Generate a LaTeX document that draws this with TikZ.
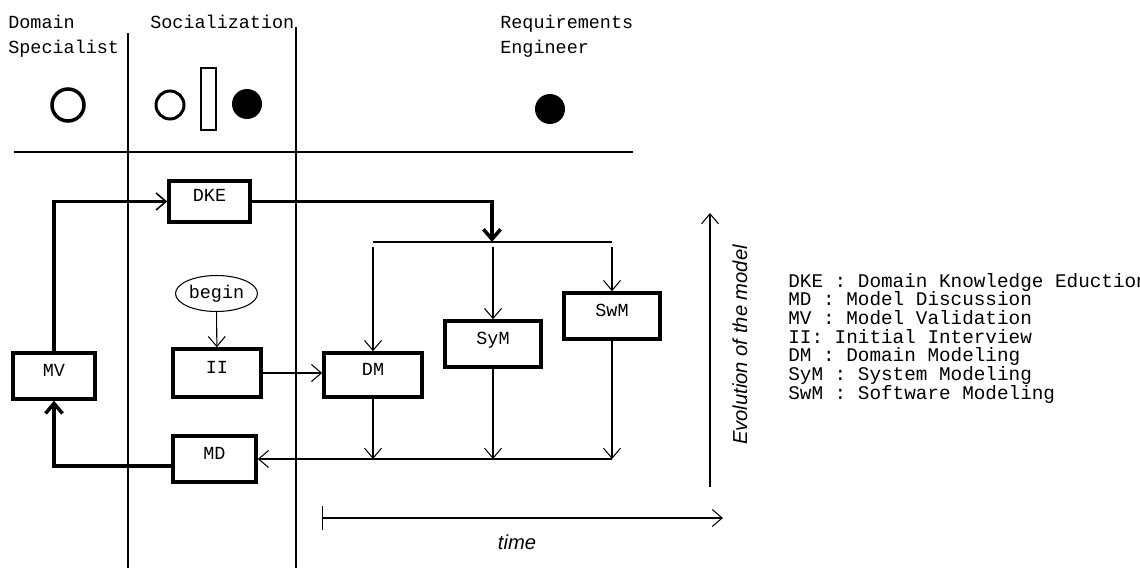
\documentclass[tikz,border=0pt]{standalone}
\usepackage{fontspec}
\setmonofont{Liberation Mono}
\setsansfont{Liberation Sans}
\usepackage{tikz}
\usetikzlibrary{calc,arrows.meta,shapes.geometric}

\newcommand{\hdrfont}{\ttfamily\fontsize{10.5}{14.2}\selectfont}
\newcommand{\legfont}{\ttfamily\fontsize{11}{10.6}\selectfont}

\tikzset{
  box/.style={draw, line width=2pt, inner sep=0pt, text height=0.24cm, text depth=0.24cm, font=\hdrfont},
  startnode/.style={draw, ellipse, line width=0.6pt, inner sep=0pt, minimum width=1.64cm, minimum height=0.72cm, font=\hdrfont},
  hdr/.style={anchor=north west, align=left, inner sep=0pt, font=\hdrfont},
  thinln/.style={line width=0.6pt},
  thickln/.style={line width=2pt},
  barb/.style={-{Straight Barb[length=2mm,width=3.4mm]}},
  slimbarb/.style={-{Straight Barb[length=2mm,width=3.4mm,line width=0.9pt]}}
}

\begin{document}
\begin{tikzpicture}[x=0.02cm,y=-0.02cm]
  \useasboundingbox (0,0) rectangle (1140,568);
  % swimlanes
  \draw[thinln] (128,33) -- (128,568);
  \draw[thinln] (296,27) -- (296,568);
  \draw[thinln] (14,152) -- (633,152);
  \node[hdr] (dsp) at (8,15) {Domain\\Specialist};
  \node[hdr] (soc) at (150,15) {Socialization};
  \node[hdr] (req) at (500,15) {Requirements\\Engineer};
  % actors
  \draw[line width=2pt] (68,105) circle (16);
  \draw[line width=1.7pt] (170,105) circle (14);
  \draw[line width=1.7pt] (201,68) rectangle (216,130);
  \fill (247,104) circle (15);
  \fill (550,109) circle (15);
  % activities
  \node[box, minimum width=1.62cm, minimum height=0.82cm] (dke) at (209.5,201.5) {DKE};
  \node[box, minimum width=1.64cm, minimum height=0.92cm] (mv) at (54,376) {MV};
  \node[box, minimum width=1.76cm, minimum height=0.96cm] (ii) at (217,373) {II};
  \node[startnode] (begin) at (216.5,293.5) {begin};
  \node[box, minimum width=1.96cm, minimum height=0.88cm] (dm) at (373,375) {DM};
  \node[box, minimum width=1.92cm, minimum height=0.92cm] (sym) at (493,344) {SyM};
  \node[box, minimum width=1.92cm, minimum height=0.92cm] (swm) at (612,316) {SwM};
  \node[box, minimum width=1.66cm, minimum height=0.92cm] (md) at (214.5,459) {MD};
  \coordinate (split) at (492,242);
  \coordinate (join) at (612,459);
  % flow
  \draw[thinln, barb] (begin) -- (ii);
  \draw[thinln, barb] (ii.east) -- (ii.east -| dm.west);
  \draw[thickln, barb] (dke.east) -| (split);
  \draw[thinln] (dm.north |- split) -- (swm.north |- split);
  \foreach \n in {dm,sym,swm}{
    \draw[thinln, barb] ($(\n.north |- split)+(0,5)$) -- (\n.north);
    \draw[thinln, barb] (\n.south) -- (\n.south |- join);
  }
  \draw[thinln, barb] (join) -- (md.east);
  \draw[thickln, barb] ($(md.west)+(0,7)$) -| (mv.south);
  \draw[thickln, slimbarb] (mv.north) |- (dke.west);
  % axes
  \coordinate (evo0) at (710,487);
  \coordinate (evo1) at (710,213);
  \draw[thinln, barb] (evo0) -- (evo1);
  \node[rotate=90, inner sep=0pt, font=\sffamily\itshape\fontsize{11.5}{14}\selectfont] (evo) at (740,345) {Evolution of the model};
  \coordinate (t0) at (322,518);
  \coordinate (t1) at (723,518);
  \draw[thinln, {Bar[width=0.48cm]}-{Straight Barb[length=2mm,width=3.4mm]}] (t0) -- (t1);
  \node[font=\sffamily\itshape\fontsize{11.5}{14}\selectfont] (time) at (517,542) {time};
  % legend
  \node[hdr, font=\legfont] (leg) at (788,273) {DKE : Domain Knowledge Eduction\\MD : Model Discussion\\MV : Model Validation\\II: Initial Interview\\DM : Domain Modeling\\SyM : System Modeling\\SwM : Software Modeling};
\end{tikzpicture}
\end{document}
